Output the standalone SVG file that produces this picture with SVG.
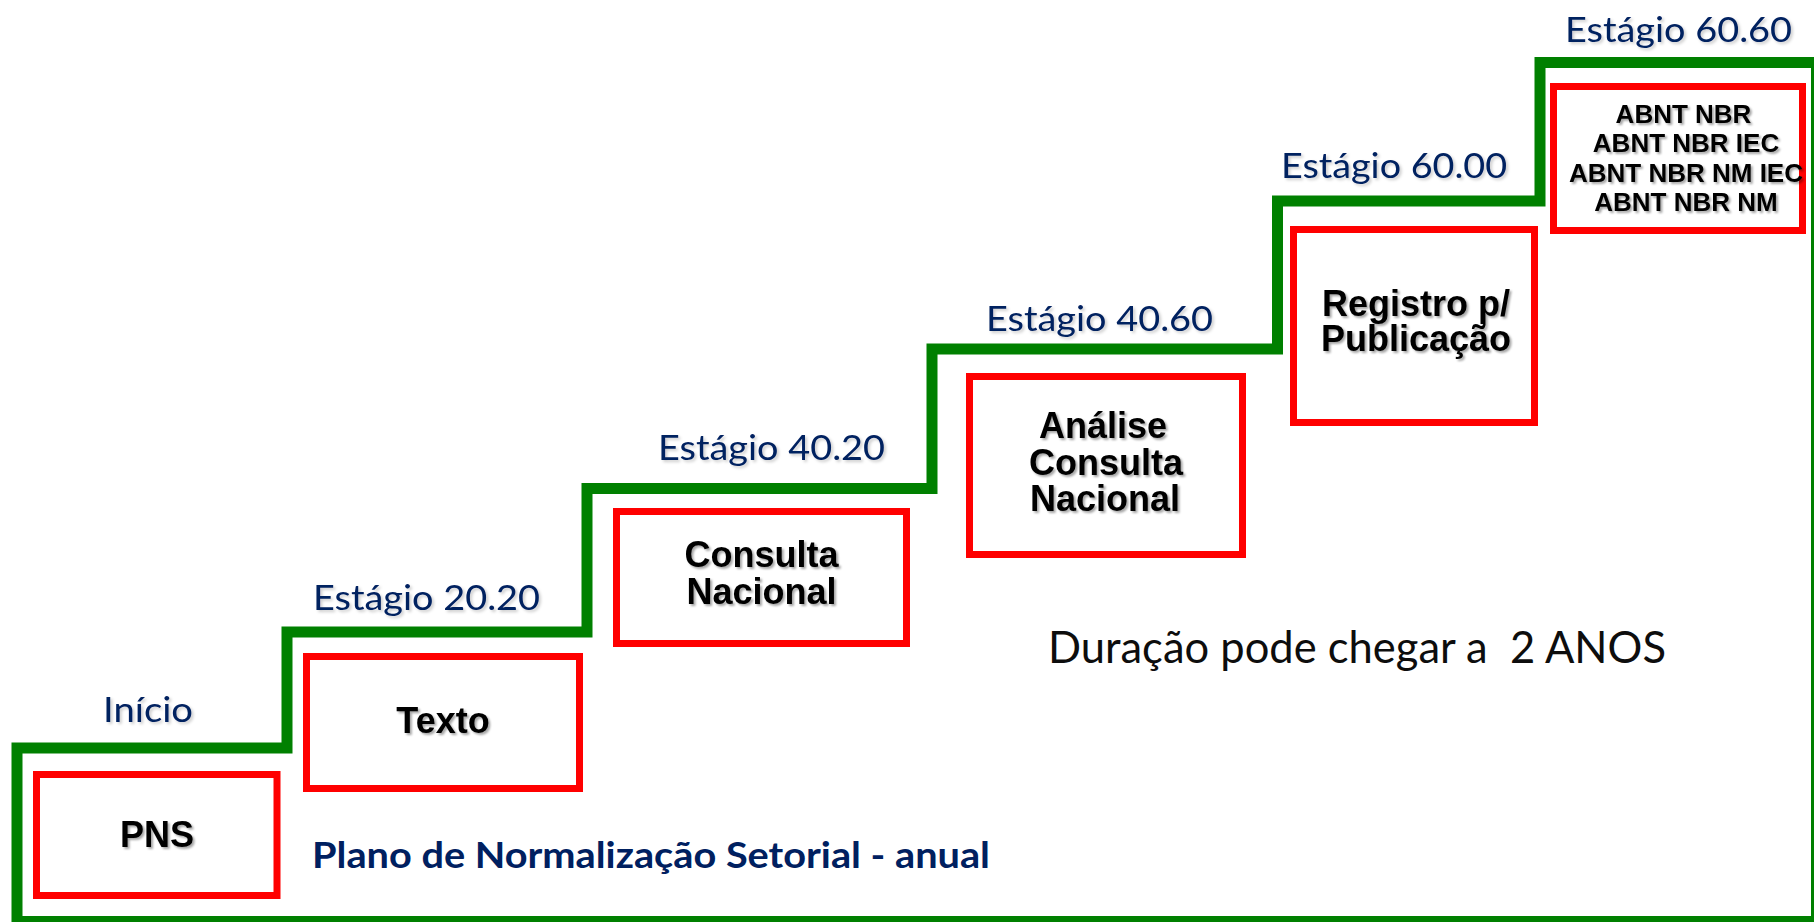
<svg xmlns="http://www.w3.org/2000/svg" width="1814" height="922" viewBox="0 0 1814 922">
  <defs>
    <filter id="sh" x="-10%" y="-20%" width="130%" height="150%">
      <feDropShadow dx="2" dy="2" stdDeviation="1.2" flood-color="#000" flood-opacity="0.35"/>
    </filter>
    <filter id="sh2" x="-10%" y="-20%" width="130%" height="150%">
      <feDropShadow dx="2" dy="2" stdDeviation="1.5" flood-color="#000" flood-opacity="0.2"/>
    </filter>
  </defs>
  <style>
    .box { fill: #ffffff; stroke: #ff0000; stroke-width: 7; }
    .bt { font-family: "Liberation Sans", Arial, sans-serif; font-weight: bold; font-size: 36px; fill: #000; text-anchor: middle; filter: url(#sh); }
    .bs { font-size: 26px; }
    .stage { font-family: Lato, "Open Sans", sans-serif; font-size: 35px; fill: #002060; filter: url(#sh2); }
    .stair { fill: none; stroke: #008000; stroke-width: 11; stroke-linejoin: miter; }
  </style>
  <rect width="1814" height="922" fill="#ffffff"/>

  <g id="connectors">
    <path class="stair" d="M17,921.5 L17,748 L287,748 L287,632 L587,632 L587,488.5 L932,488.5 L932,349 L1277.5,349 L1277.5,201 L1540,201 L1540,62.5 L1816.5,62.5 L1816.5,921.5 Z"/>
  </g>

  <g id="label-inicio"><text class="stage" x="103" y="722" textLength="90" lengthAdjust="spacingAndGlyphs">Início</text></g>
  <g id="label-2020"><text class="stage" x="313" y="610" textLength="227" lengthAdjust="spacingAndGlyphs">Estágio 20.20</text></g>
  <g id="label-4020"><text class="stage" x="658" y="460" textLength="227" lengthAdjust="spacingAndGlyphs">Estágio 40.20</text></g>
  <g id="label-4060"><text class="stage" x="986" y="331" textLength="227" lengthAdjust="spacingAndGlyphs">Estágio 40.60</text></g>
  <g id="label-6000"><text class="stage" x="1281" y="178" textLength="226" lengthAdjust="spacingAndGlyphs">Estágio 60.00</text></g>
  <g id="label-6060"><text class="stage" x="1565" y="42" textLength="227" lengthAdjust="spacingAndGlyphs">Estágio 60.60</text></g>

  <g id="node-pns">
    <rect class="box" x="36.5" y="774.5" width="240.5" height="121"/>
    <text class="bt" x="157" y="847">PNS</text>
  </g>
  <g id="node-texto">
    <rect class="box" x="306.5" y="656.5" width="273" height="132"/>
    <text class="bt" x="443" y="733">Texto</text>
  </g>
  <g id="node-consulta">
    <rect class="box" x="616.5" y="511.5" width="290" height="132"/>
    <text class="bt" x="761.5" y="567">Consulta</text>
    <text class="bt" x="761.5" y="604">Nacional</text>
  </g>
  <g id="node-analise">
    <rect class="box" x="969.5" y="376.5" width="273" height="178"/>
    <text class="bt" x="1103" y="438">Análise</text>
    <text class="bt" x="1106" y="475">Consulta</text>
    <text class="bt" x="1105" y="511">Nacional</text>
  </g>
  <g id="node-registro">
    <rect class="box" x="1293.5" y="229.5" width="241" height="193"/>
    <text class="bt" x="1416" y="316">Registro p/</text>
    <text class="bt" x="1416" y="351">Publicação</text>
  </g>
  <g id="node-abnt">
    <rect class="box" x="1553.5" y="86.5" width="249" height="144"/>
    <text class="bt bs" x="1683.5" y="123">ABNT NBR</text>
    <text class="bt bs" x="1686" y="152">ABNT NBR IEC</text>
    <text class="bt bs" x="1686" y="182">ABNT NBR NM IEC</text>
    <text class="bt bs" x="1686" y="211">ABNT NBR NM</text>
  </g>

  <g id="note-plano">
    <text x="312" y="868" font-family="Lato, 'Open Sans', sans-serif" font-weight="bold" font-size="37" fill="#002060" textLength="678" lengthAdjust="spacingAndGlyphs">Plano de Normalização Setorial - anual</text>
  </g>
  <g id="note-duracao">
    <text x="1048" y="663" xml:space="preserve" font-family="Lato, 'Open Sans', sans-serif" font-size="44" fill="#0d0d0d" textLength="618" lengthAdjust="spacingAndGlyphs">Duração pode chegar a  2 ANOS</text>
  </g>
</svg>
